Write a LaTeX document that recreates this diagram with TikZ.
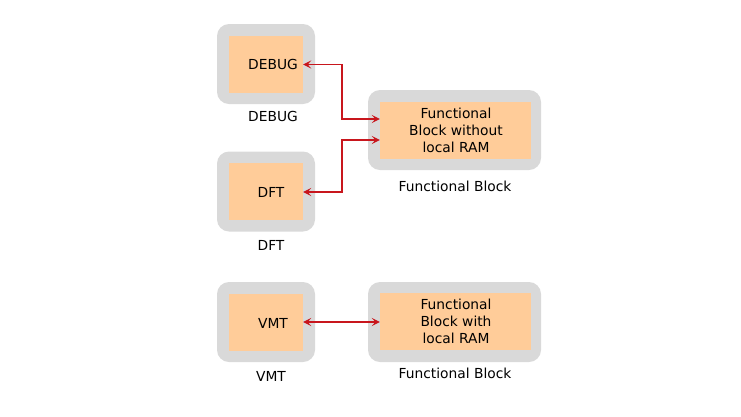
\documentclass[tikz,border=0pt]{standalone}
\usepackage{fontspec}
\setmainfont{DejaVu Sans}
\usetikzlibrary{arrows.meta}
\definecolor{boxgray}{RGB}{217,217,217}
\definecolor{boxorange}{RGB}{255,204,153}
\definecolor{arrred}{RGB}{200,22,29}
\tikzset{
  outerbox/.style={fill=boxgray, rounded corners=12pt, minimum width=#1, minimum height=80pt, inner sep=0pt},
  innerbox/.style={fill=boxorange, minimum width=#1, minimum height=57pt, inner sep=0pt},
  txt/.style={font=\fontsize{13.8}{17}\selectfont, inner sep=0pt, align=center},
  arr/.style={draw=arrred, line width=1.7pt, {Stealth[length=8pt,width=8pt,inset=3.5pt]}-{Stealth[length=8pt,width=8pt,inset=3.5pt]}}
}
\begin{document}
\begin{tikzpicture}[x=1pt,y=-1pt]
\useasboundingbox (0,0) rectangle (741,416);
% DEBUG
\node[outerbox=98pt] (debugO) at (266,64) {};
\node[innerbox=74pt] (debug) at (266,64.5) {};
\node[txt] (debugT) at (273,64) {DEBUG};
\node[txt] (debugL) at (273,116) {DEBUG};
% DFT
\node[outerbox=98pt] (dftO) at (266,191.5) {};
\node[innerbox=74pt] (dft) at (266,191) {};
\node[txt] (dftT) at (271,192) {DFT};
\node[txt] (dftL) at (271,245) {DFT};
% FB1
\node[outerbox=173pt] (fb1O) at (454.5,130) {};
\node[innerbox=151pt] (fb1) at (455.5,130.5) {};
\node[txt] (fb1T) at (456,130) {Functional\\Block without\\local RAM};
\node[txt] (fb1L) at (455,186) {Functional Block};
% VMT
\node[outerbox=98pt] (vmtO) at (266,322) {};
\node[innerbox=74pt] (vmt) at (266,322) {};
\node[txt] (vmtT) at (273,323) {VMT};
\node[txt] (vmtL) at (271,376) {VMT};
% FB2
\node[outerbox=173pt] (fb2O) at (454.5,322) {};
\node[innerbox=151pt] (fb2) at (455.5,321.5) {};
\node[txt] (fb2T) at (456,321) {Functional\\Block with\\local RAM};
\node[txt] (fb2L) at (455,373) {Functional Block};
% arrows
\draw[arr] (debug.east) -- ++(39,0) |- ([yshift=11.5pt]fb1.west);
\draw[arr] ([yshift=-1pt]dft.east) -- ++(39,0) |- ([yshift=-9.5pt]fb1.west);
\draw[arr] (vmt.east) -- (fb2.west |- vmt.east);
\end{tikzpicture}
\end{document}
